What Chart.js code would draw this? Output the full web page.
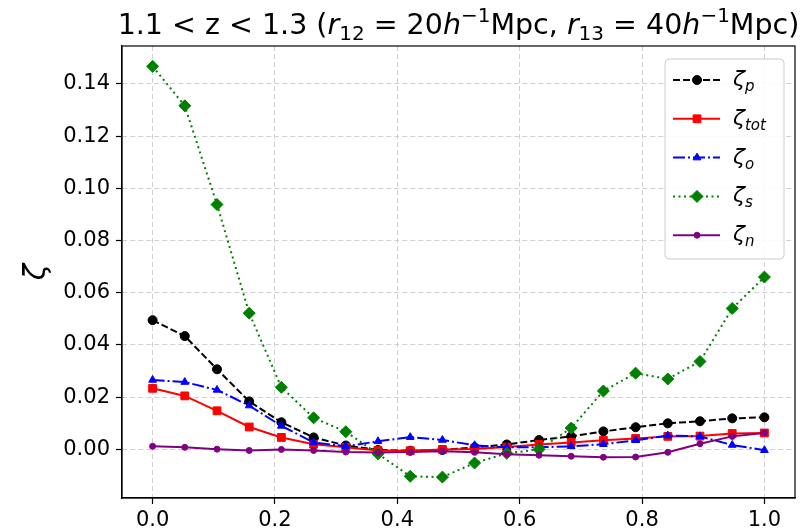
<!DOCTYPE html>
<html>
<head>
<meta charset="utf-8">
<script src="https://cdn.jsdelivr.net/npm/chart.js@4/dist/chart.umd.min.js"></script>
<style>
  body { margin: 0; background: #fff; }
</style>
</head>
<body>
<canvas id="zetaChart" width="807" height="531"></canvas>
<script>
// Données (20 points entre 0 et 1)
const xValues = [0, 0.0526, 0.1053, 0.1579, 0.2105, 0.2632, 0.3158, 0.3684, 0.4211, 0.4737,
                 0.5263, 0.5789, 0.6316, 0.6842, 0.7368, 0.7895, 0.8421, 0.8947, 0.9474, 1.0];
const zetaP   = [0.0495, 0.0434, 0.0307, 0.0184, 0.0104, 0.0046, 0.0015, -0.0002, -0.0005, -0.0002,
                 0.0008, 0.0019, 0.0036, 0.0050, 0.0069, 0.0085, 0.0100, 0.0108, 0.0119, 0.0123];
const zetaTot = [0.0234, 0.0205, 0.0148, 0.0086, 0.0046, 0.0020, 0.0008, -0.0004, -0.0005, 0.0000,
                 0.0002, 0.0009, 0.0019, 0.0027, 0.0035, 0.0042, 0.0050, 0.0051, 0.0061, 0.0063];
const zetaO   = [0.0266, 0.0258, 0.0228, 0.0168, 0.0090, 0.0027, 0.0012, 0.0031, 0.0047, 0.0036,
                 0.0016, 0.0008, 0.0008, 0.0012, 0.0020, 0.0035, 0.0053, 0.0050, 0.0017, -0.0003];
const zetaS   = [0.1467, 0.1316, 0.0938, 0.0522, 0.0238, 0.0121, 0.0068, -0.0017, -0.0103, -0.0106,
                 -0.0052, -0.0015, 0.0000, 0.0082, 0.0224, 0.0292, 0.0270, 0.0337, 0.0540, 0.0660];
const zetaN   = [0.0012, 0.0008, 0.0001, -0.0004, 0.0000, -0.0004, -0.0010, -0.0012, -0.0010, -0.0007,
                 -0.0011, -0.0018, -0.0022, -0.0026, -0.0030, -0.0029, -0.0011, 0.0022, 0.0050, 0.0063];
const seriesSubs = ['p', 'tot', 'o', 's', 'n'];
const xTicks = [0, 0.2, 0.4, 0.6, 0.8, 1.0];
const yTicks = [0, 0.02, 0.04, 0.06, 0.08, 0.10, 0.12, 0.14];

const FONT = "'DejaVu Sans', sans-serif";

const styles = [
  { color: '#000000', dash: [7, 3], point: 'circle', radius: 4.5 },
  { color: '#ff0000', dash: [], point: 'rect', radius: 5.5 },
  { color: '#0000ff', dash: [12, 3, 2, 3], point: 'triangle', radius: 4.5 },
  { color: '#008000', dash: [2, 3.5], point: 'rectRot', radius: 6 },
  { color: '#800080', dash: [], point: 'circle', radius: 3 }
];
const allSeries = [zetaP, zetaTot, zetaO, zetaS, zetaN];

// texte "riche" (indices / exposants) dessiné morceau par morceau
function drawRich(ctx, parts, x, y, align) {
  let total = 0;
  parts.forEach(p => { ctx.font = p.font; total += ctx.measureText(p.t).width; });
  let cx = align === 'center' ? x - total / 2 : x;
  ctx.textBaseline = 'alphabetic';
  ctx.textAlign = 'left';
  parts.forEach(p => {
    ctx.font = p.font;
    ctx.fillText(p.t, cx, y + (p.dy || 0));
    cx += ctx.measureText(p.t).width;
  });
}

const mplExtras = {
  id: 'mplExtras',
  afterDatasetsDraw(chart) {
    const { ctx, chartArea: a } = chart;
    ctx.save();
    // cadre complet
    ctx.strokeStyle = '#000';
    ctx.lineWidth = 1.2;
    ctx.setLineDash([]);
    ctx.strokeRect(a.left, a.top, a.right - a.left, a.bottom - a.top);

    // légende
    const bx = a.right - 130, by = a.top + 13, bw = 119, bh = 200;
    ctx.fillStyle = 'rgba(255,255,255,0.85)';
    ctx.strokeStyle = '#cccccc';
    ctx.lineWidth = 1;
    ctx.beginPath();
    ctx.roundRect(bx, by, bw, bh, 4);
    ctx.fill();
    ctx.stroke();
    styles.forEach((s, i) => {
      const y = by + 21 + i * 38.8;
      ctx.strokeStyle = s.color;
      ctx.fillStyle = s.color;
      ctx.lineWidth = 2;
      ctx.setLineDash(s.dash);
      ctx.beginPath();
      ctx.moveTo(bx + 8, y);
      ctx.lineTo(bx + 55, y);
      ctx.stroke();
      ctx.setLineDash([]);
      ctx.lineWidth = 1;
      Chart.helpers.drawPoint(ctx, { pointStyle: s.point, radius: s.radius, rotation: 0, borderWidth: 1 }, bx + 32, y);
      ctx.fillStyle = '#000';
      drawRich(ctx, [
        { t: 'ζ', font: 'italic 22px ' + FONT },
        { t: seriesSubs[i], font: 'italic 15px ' + FONT, dy: 5 }
      ], bx + 68, y + 6, 'left');
    });
    ctx.restore();
  },
  afterDraw(chart) {
    const { ctx, chartArea: a } = chart;
    ctx.save();
    ctx.fillStyle = '#000';
    const N = '28.5px ' + FONT, I = 'italic 28.5px ' + FONT, S = '20px ' + FONT;
    drawRich(ctx, [
      { t: '1.1 < z < 1.3 (', font: N },
      { t: 'r', font: I }, { t: '12', font: S, dy: 6 },
      { t: ' = 20', font: N }, { t: 'h', font: I }, { t: '−1', font: S, dy: -12 },
      { t: 'Mpc, ', font: N },
      { t: 'r', font: I }, { t: '13', font: S, dy: 6 },
      { t: ' = 40', font: N }, { t: 'h', font: I }, { t: '−1', font: S, dy: -12 },
      { t: 'Mpc)', font: N }
    ], (a.left + a.right) / 2, 34, 'center');
    ctx.restore();
  }
};

function axisCommon(ticksArr) {
  return {
    type: 'linear',
    afterBuildTicks: s => { s.ticks = ticksArr.map(v => ({ value: v })); },
    grid: { color: '#d0d0d0', lineWidth: 1, tickLength: 6, tickColor: '#000', tickWidth: 1.2 },
    border: { color: '#000', width: 1.2, dash: [5, 3] },
    ticks: { color: '#000', font: { family: FONT, size: 21 }, padding: 4, maxRotation: 0, autoSkip: false }
  };
}

const xAxis = axisCommon(xTicks);
xAxis.min = -0.05;
xAxis.max = 1.05;
xAxis.afterFit = s => { s.height = 33; };
xAxis.ticks.callback = v => v.toFixed(1);

const yAxis = axisCommon(yTicks);
yAxis.min = -0.0186;
yAxis.max = 0.1545;
yAxis.afterFit = s => { s.width = 122; };
yAxis.ticks.callback = v => v.toFixed(2);
yAxis.ticks.padding = 6;
yAxis.title = { display: true, text: 'ζ', color: '#000', font: { family: FONT, size: 30, style: 'italic' }, padding: { top: 19, bottom: 0 } };

new Chart(document.getElementById('zetaChart'), {
  type: 'line',
  data: {
    datasets: allSeries.map((vals, i) => ({
      label: 'ζ' + seriesSubs[i],
      data: vals.map((v, k) => ({ x: xValues[k], y: v })),
      borderColor: styles[i].color,
      backgroundColor: styles[i].color,
      borderWidth: 2,
      borderDash: styles[i].dash,
      pointStyle: styles[i].point,
      pointRadius: styles[i].radius,
      pointBorderWidth: 1,
      tension: 0,
      fill: false,
      order: 5 - i
    }))
  },
  options: {
    animation: false,
    responsive: false,
    layout: { padding: { top: 46, right: 12, left: 0, bottom: 0 } },
    plugins: { legend: { display: false }, title: { display: false }, tooltip: { enabled: false } },
    scales: { x: xAxis, y: yAxis }
  },
  plugins: [mplExtras]
});
</script>
</body>
</html>
